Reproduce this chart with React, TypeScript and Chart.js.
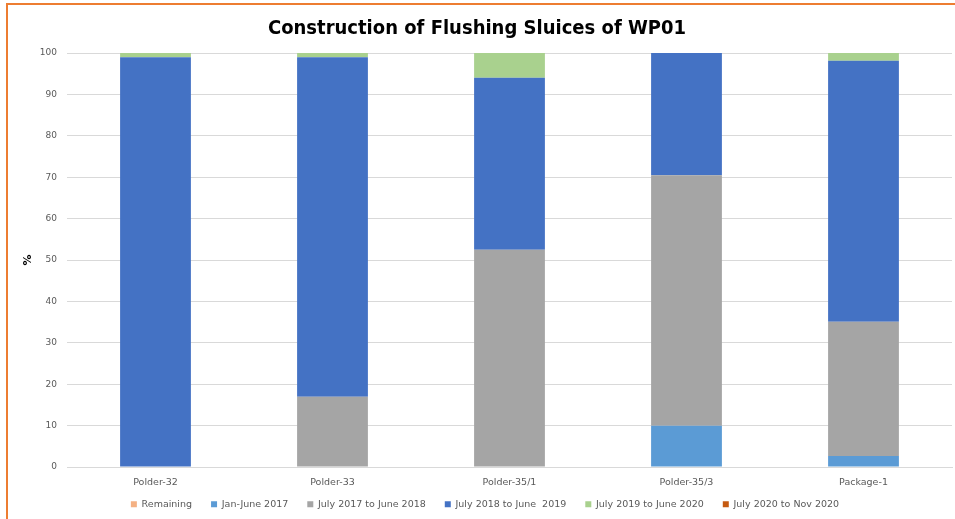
import React, { useEffect, useRef } from "react";
import { Chart, registerables } from "chart.js";

Chart.register(...registerables);

const categories = ["Polder-32", "Polder-33", "Polder-35/1", "Polder-35/3", "Package-1"];
const remaining = [0, 0, 0, 0, 0];
const janJune2017 = [0, 0, 0, 10, 2.7];
const july2017ToJune2018 = [0, 17, 52.5, 60.5, 32.4];
const july2018ToJune2019 = [99, 82, 41.5, 29.5, 63];
const july2019ToJune2020 = [1, 1, 6, 0, 2];
const july2020ToNov2020 = [0, 0, 0, 0, 0];
const yTicks = [0, 10, 20, 30, 40, 50, 60, 70, 80, 90, 100];

const shiftBoxes = {
  id: "shiftBoxes",
  afterLayout(chart: any) {
    const lg = chart.legend;
    if (lg) {
      lg.top -= 18;
      lg.bottom -= 18;
    }
    const tb = chart.titleBlock;
    if (tb) {
      tb.left -= 8;
      tb.right -= 8;
    }
  },
};

export default function App() {
  const ref = useRef<HTMLCanvasElement | null>(null);
  useEffect(() => {
    if (!ref.current) return;
    const ds = (label: string, data: number[], color: string) => ({
      label,
      data,
      backgroundColor: color,
      borderWidth: 0,
      barPercentage: 0.4,
      categoryPercentage: 1,
    });
    const chart = new Chart(ref.current, {
      type: "bar",
      data: {
        labels: categories,
        datasets: [
          ds("Remaining", remaining, "#F4B183"),
          ds("Jan-June 2017", janJune2017, "#5B9BD5"),
          ds("July 2017 to June 2018", july2017ToJune2018, "#A5A5A5"),
          ds("July 2018 to June  2019", july2018ToJune2019, "#4472C4"),
          ds("July 2019 to June 2020", july2019ToJune2020, "#A9D18E"),
          ds("July 2020 to Nov 2020", july2020ToNov2020, "#C55A11"),
        ],
      },
      plugins: [shiftBoxes],
      options: {
        animation: false,
        responsive: false,
        maintainAspectRatio: false,
        layout: { padding: { left: 18, right: 3, top: 0, bottom: -18 } },
        plugins: {
          title: {
            display: true,
            text: "Construction of Flushing Sluices of WP01",
            color: "#000000",
            font: { family: "DejaVu Sans Condensed", size: 20, weight: "bold" },
            padding: { top: 17, bottom: 12 },
          },
          legend: {
            position: "bottom",
            labels: {
              boxWidth: 6,
              boxHeight: 6,
              padding: 19,
              color: "#595959",
              font: { family: "DejaVu Sans", size: 9.5 },
            },
          },
          tooltip: { enabled: false },
        },
        scales: {
          x: {
            stacked: true,
            grid: { display: false, drawTicks: false },
            border: { color: "#d9d9d9" },
            ticks: {
              color: "#595959",
              font: { family: "DejaVu Sans", size: 9.5 },
              padding: 10,
            },
          },
          y: {
            stacked: true,
            min: 0,
            max: 100,
            afterBuildTicks: (scale: any) => {
              scale.ticks = yTicks.map((v) => ({ value: v }));
            },
            afterFit: (scale: any) => {
              scale.width = 49;
            },
            grid: { color: "#d9d9d9", drawTicks: false },
            border: { display: false },
            title: {
              display: true,
              text: "%",
              color: "#000000",
              font: { family: "DejaVu Sans", size: 11, weight: "bold" },
            },
            ticks: {
              color: "#595959",
              font: { family: "DejaVu Sans", size: 9 },
              padding: 10,
            },
          },
        },
      },
    });
    return () => chart.destroy();
  }, []);
  return (
    <div style={{ position: "fixed", left: 0, top: 0, width: 955, height: 519, background: "#ffffff" }}>
      <div
        style={{
          position: "absolute",
          left: 6,
          top: 3,
          width: 949,
          height: 516,
          borderTop: "2px solid #ED7D31",
          borderLeft: "2px solid #ED7D31",
          boxSizing: "border-box",
        }}
      />
      <canvas ref={ref} width={955} height={519} style={{ position: "absolute", left: 0, top: 0 }} />
    </div>
  );
}
